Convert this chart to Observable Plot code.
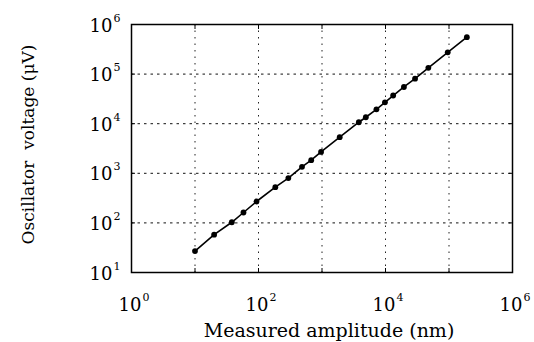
<!DOCTYPE html>
<html>
<head>
<meta charset="utf-8">
<script src="https://cdn.jsdelivr.net/npm/d3@7"></script>
<script src="https://cdn.jsdelivr.net/npm/@observablehq/plot@0.6"></script>
<style>
  html, body { margin: 0; padding: 0; background: white; }
</style>
</head>
<body>
<div id="chart"></div>
<script>
// Measured amplitude (nm)
const amplitude = [10, 20, 38, 58, 93, 184, 295, 484, 676, 966, 1900, 3800, 4900, 7200, 9800, 13200, 19500, 29200, 47300, 95500, 191000];
// Oscillator voltage (µV)
const voltage = [27, 58, 103, 162, 270, 525, 800, 1350, 1840, 2700, 5350, 10700, 13500, 19500, 27000, 37000, 55000, 81000, 134000, 275000, 555000];

const xLabelTicks = [1, 100, 1e4, 1e6];
const xLabelExp = ["0", "2", "4", "6"];
const yLabelTicks = [10, 100, 1e3, 1e4, 1e5, 1e6];
const yLabelExp = ["1", "2", "3", "4", "5", "6"];
const xGrid = [10, 100, 1e3, 1e4, 1e5];
const yGrid = [100, 1e3, 1e4, 1e5];
const xTickMarks = [1, 10, 100, 1e3, 1e4, 1e5, 1e6];
const yTickMarks = [10, 100, 1e3, 1e4, 1e5, 1e6];

const xTitle = "Measured amplitude (nm)";
const yTitle = "Oscillator  voltage (\u03BCV)";

const data = amplitude.map((a, i) => ({a, v: voltage[i]}));
const FONT = "DejaVu Serif";
const noLabel = () => "";

const chart = Plot.plot({
  width: 534,
  height: 342,
  marginLeft: 131,
  marginRight: 22,
  marginTop: 24,
  marginBottom: 70,
  style: {fontFamily: FONT, background: "white", color: "black"},
  x: {type: "log", domain: [1, 1e6], axis: null},
  y: {type: "log", domain: [10, 1e6], axis: null},
  marks: [
    Plot.ruleX(xGrid, {stroke: "#222", strokeWidth: 1, strokeDasharray: "1.5,5"}),
    Plot.ruleY(yGrid, {stroke: "#111", strokeWidth: 1, strokeDasharray: "2.5,4"}),
    Plot.axisX({ticks: xTickMarks, anchor: "bottom", tickSize: -4, tickFormat: noLabel, label: null, stroke: "black"}),
    Plot.axisX({ticks: xTickMarks, anchor: "top", tickSize: -4, tickFormat: noLabel, label: null, stroke: "black"}),
    Plot.axisY({ticks: yTickMarks, anchor: "left", tickSize: -4, tickFormat: noLabel, label: null, stroke: "black"}),
    Plot.axisY({ticks: yTickMarks, anchor: "right", tickSize: -4, tickFormat: noLabel, label: null, stroke: "black"}),
    Plot.frame({stroke: "black", strokeWidth: 1.5}),
    Plot.line(data, {x: "a", y: "v", stroke: "black", strokeWidth: 1.6}),
    Plot.dot(data, {x: "a", y: "v", r: 2.9, fill: "black", stroke: "none"}),
    // x tick labels
    Plot.text(xLabelTicks, {x: d => d, frameAnchor: "bottom", text: () => "10", fontSize: 18, textAnchor: "end", dx: 10, dy: 38, lineAnchor: "bottom", fill: "black"}),
    Plot.text(xLabelTicks, {x: d => d, frameAnchor: "bottom", text: (d, i) => xLabelExp[i], fontSize: 11, textAnchor: "start", dx: 11, dy: 28, lineAnchor: "bottom", fill: "black"}),
    // y tick labels
    Plot.text(yLabelTicks, {y: d => d, frameAnchor: "left", text: () => "10", fontSize: 18, textAnchor: "end", dx: -19, dy: 7, lineAnchor: "bottom", fill: "black"}),
    Plot.text(yLabelTicks, {y: d => d, frameAnchor: "left", text: (d, i) => yLabelExp[i], fontSize: 11, textAnchor: "start", dx: -18, dy: -3, lineAnchor: "bottom", fill: "black"}),
    // axis titles
    Plot.text([xTitle], {frameAnchor: "bottom", text: d => d, fontSize: 19, textAnchor: "middle", dx: 7, dy: 64, lineAnchor: "bottom", fill: "black"}),
    Plot.text([yTitle], {frameAnchor: "left", text: d => d, fontSize: 17, rotate: -90, textAnchor: "middle", dx: -103, dy: -4, lineAnchor: "middle", fill: "black"})
  ]
});
document.getElementById("chart").appendChild(chart);
</script>
</body>
</html>
